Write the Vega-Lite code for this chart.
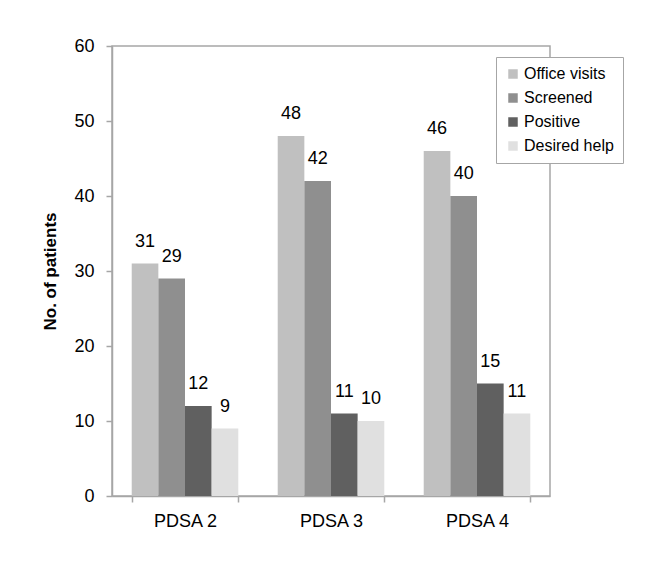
{
  "$schema": "https://vega.github.io/schema/vega-lite/v6.json",
  "width": 438,
  "height": 450,
  "autosize": {"type": "none"},
  "padding": {"left": 112, "top": 46, "right": 114, "bottom": 66},
  "background": "white",
  "config": {
    "font": "Liberation Sans",
    "view": {"stroke": "#a6a6a6", "strokeWidth": 1.5}
  },
  "data": {
    "values": [
      {"period": "PDSA 2", "series": "Office visits", "value": 31},
      {"period": "PDSA 2", "series": "Screened", "value": 29},
      {"period": "PDSA 2", "series": "Positive", "value": 12},
      {"period": "PDSA 2", "series": "Desired help", "value": 9},
      {"period": "PDSA 3", "series": "Office visits", "value": 48},
      {"period": "PDSA 3", "series": "Screened", "value": 42},
      {"period": "PDSA 3", "series": "Positive", "value": 11},
      {"period": "PDSA 3", "series": "Desired help", "value": 10},
      {"period": "PDSA 4", "series": "Office visits", "value": 46},
      {"period": "PDSA 4", "series": "Screened", "value": 40},
      {"period": "PDSA 4", "series": "Positive", "value": 15},
      {"period": "PDSA 4", "series": "Desired help", "value": 11}
    ]
  },
  "encoding": {
    "x": {
      "field": "period",
      "type": "nominal",
      "scale": {"paddingInner": 0.27, "paddingOuter": 0.135},
      "axis": {
        "title": null,
        "labelAngle": 0,
        "tickBand": "extent",
        "labelFontSize": 18,
        "labelColor": "#000000",
        "domainColor": "#a6a6a6",
        "domainWidth": 1.5,
        "tickColor": "#a6a6a6",
        "tickWidth": 1.5,
        "tickSize": 6,
        "labelPadding": 10
      }
    },
    "xOffset": {
      "field": "series",
      "type": "nominal",
      "sort": ["Office visits", "Screened", "Positive", "Desired help"]
    },
    "y": {
      "field": "value",
      "type": "quantitative",
      "scale": {"domain": [0, 60]},
      "axis": {
        "title": "No. of patients",
        "titleFontSize": 17,
        "titleFontWeight": "bold",
        "titleColor": "#000000",
        "titlePadding": 14,
        "grid": false,
        "values": [0, 10, 20, 30, 40, 50, 60],
        "labelFontSize": 18,
        "labelColor": "#000000",
        "labelPadding": 12,
        "domainColor": "#a6a6a6",
        "domainWidth": 1.5,
        "tickColor": "#a6a6a6",
        "tickWidth": 1.5,
        "tickSize": 6
      }
    }
  },
  "layer": [
    {
      "mark": {"type": "bar"},
      "encoding": {
        "color": {
          "field": "series",
          "type": "nominal",
          "sort": ["Office visits", "Screened", "Positive", "Desired help"],
          "scale": {
            "domain": ["Office visits", "Screened", "Positive", "Desired help"],
            "range": ["#c0c0c0", "#8f8f8f", "#606060", "#e0e0e0"]
          },
          "legend": {
            "title": null,
            "orient": "none",
            "legendX": 384,
            "legendY": 11,
            "strokeColor": "#a6a6a6",
            "fillColor": "white",
            "padding": 9,
            "symbolType": "square",
            "symbolSize": 90,
            "symbolStrokeWidth": 0,
            "labelFontSize": 16,
            "labelColor": "#000000",
            "labelOffset": 3,
            "rowPadding": 8
          }
        }
      }
    },
    {
      "mark": {"type": "text", "dy": -17, "baseline": "alphabetic", "fontSize": 18, "color": "#000000"},
      "encoding": {"text": {"field": "value", "type": "quantitative"}}
    }
  ]
}
